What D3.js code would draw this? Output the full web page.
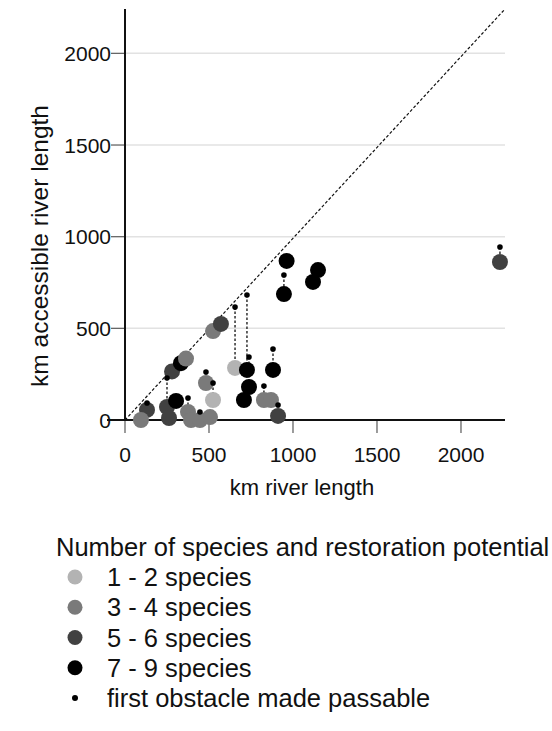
<!DOCTYPE html>
<html><head><meta charset="utf-8">
<script src="https://cdn.jsdelivr.net/npm/d3@7"></script>
<style>
body{margin:0;background:#fff;}
svg{display:block;font-family:"Liberation Sans",Arial,sans-serif;}
</style></head>
<body>
<svg id="chart" width="552" height="731"></svg>
<script>
// ---- data ----
const riverLength    = [131, 95, 250, 262, 304, 280, 333, 363, 482, 375, 393, 446, 506, 524, 524, 571, 655, 726, 738, 708, 827, 869, 881, 911, 946, 962, 1149, 1119, 2232];
const accessible     = [ 55,  0,  71,  11, 104, 265, 310, 335, 202,  44,   0,   0,  16, 109, 485, 524, 284, 273, 180, 109, 109, 109, 273,  22, 687, 868,  818,  753,  862];
const afterPassable  = [ 93, null, 229, null, null, null, null, null, 262, 120, null, 44, null, 202, null, null, 616, 682, 344, null, 185, null, 387, 82, 791, null, null, null, 944];
const speciesClass   = [  2,  1,   2,   2,   3,   2,   3,   1,   1,   1,    1,   1,   1,   0,   1,   2,   0,   3,   3,   3,   1,   1,   3,   2,   3,   3,    3,    3,    2];
const classLabels    = ["1 - 2 species", "3 - 4 species", "5 - 6 species", "7 - 9 species"];
const classColors    = ["#b3b3b3", "#7a7a7a", "#414141", "#000000"];
const xTicks = [0, 500, 1000, 1500, 2000];
const yTicks = [0, 500, 1000, 1500, 2000];

const svg = d3.select("#chart");
const x = d3.scaleLinear().domain([0, 2262]).range([125, 505]);
const y = d3.scaleLinear().domain([0, 2242]).range([420, 9]);

const pts = riverLength.map((d, i) => ({km: d, acc: accessible[i], pass: afterPassable[i], c: speciesClass[i]}));

// grid
svg.append("g").selectAll("line").data(yTicks.filter(d => d > 0)).join("line")
  .attr("x1", x(0)).attr("x2", x.range()[1])
  .attr("y1", d => y(d)).attr("y2", d => y(d))
  .attr("stroke", "#e2e2e2").attr("stroke-width", 1.5);

// ticks
svg.append("g").selectAll("line").data(yTicks).join("line")
  .attr("x1", x(0) - 14).attr("x2", x(0))
  .attr("y1", d => y(d)).attr("y2", d => y(d))
  .attr("stroke", "#666").attr("stroke-width", 1.3);
svg.append("g").selectAll("line").data(xTicks).join("line")
  .attr("x1", d => x(d)).attr("x2", d => x(d))
  .attr("y1", y(0)).attr("y2", y(0) + 13)
  .attr("stroke", "#666").attr("stroke-width", 1.3);

// axes lines
svg.append("line").attr("x1", x(0)).attr("x2", x(0)).attr("y1", y.range()[1]).attr("y2", y(0))
  .attr("stroke", "#111").attr("stroke-width", 2);
svg.append("line").attr("x1", x(0) - 18).attr("x2", x.range()[1]).attr("y1", y(0)).attr("y2", y(0))
  .attr("stroke", "#111").attr("stroke-width", 2);

// tick labels
svg.append("g").selectAll("text").data(yTicks).join("text")
  .attr("x", x(0) - 14).attr("y", d => y(d)).attr("dy", "0.36em")
  .attr("text-anchor", "end").attr("font-size", 21).attr("fill", "#111")
  .text(d => d);
svg.append("g").selectAll("text").data(xTicks).join("text")
  .attr("x", d => x(d)).attr("y", 462)
  .attr("text-anchor", "middle").attr("font-size", 21).attr("fill", "#111")
  .text(d => d);

// axis titles
svg.append("text").attr("x", 302).attr("y", 495).attr("text-anchor", "middle")
  .attr("font-size", 22).attr("fill", "#111").text("km river length");
svg.append("text").attr("transform", "translate(48,246) rotate(-90)").attr("text-anchor", "middle")
  .attr("font-size", 24.5).attr("fill", "#111").text("km accessible river length");

// 1:1 line
svg.append("line").attr("x1", x(0)).attr("y1", y(0)).attr("x2", x(2262)).attr("y2", y(2242))
  .attr("stroke", "#111").attr("stroke-width", 1.2).attr("stroke-dasharray", "3,2");

// dashed links
const withPass = pts.filter(d => d.pass !== null);
svg.append("g").selectAll("line").data(withPass).join("line")
  .attr("x1", d => x(d.km)).attr("x2", d => x(d.km))
  .attr("y1", d => y(d.pass)).attr("y2", d => y(d.acc))
  .attr("stroke", "#111").attr("stroke-width", 1.3).attr("stroke-dasharray", "2.5,2");

// circles
svg.append("g").selectAll("circle").data(pts).join("circle")
  .attr("cx", d => x(d.km)).attr("cy", d => y(d.acc)).attr("r", 8)
  .attr("fill", d => classColors[d.c]);

// small dots
svg.append("g").selectAll("circle").data(withPass).join("circle")
  .attr("cx", d => x(d.km)).attr("cy", d => y(d.pass)).attr("r", 2.8)
  .attr("fill", "#000");

// legend
const lg = svg.append("g");
lg.append("text").attr("x", 56).attr("y", 556).attr("font-size", 25.5).attr("fill", "#111")
  .text("Number of species and restoration potential");
const rows = classLabels.map((l, i) => ({label: l, color: classColors[i], r: 7.5}))
  .concat([{label: "first obstacle made passable", color: "#000", r: 3}]);
const rowY = d3.scaleLinear().domain([0, 4]).range([577, 698]);
lg.selectAll("circle").data(rows).join("circle")
  .attr("cx", 75).attr("cy", (d, i) => rowY(i)).attr("r", d => d.r).attr("fill", d => d.color);
lg.selectAll("text.item").data(rows).join("text").attr("class", "item")
  .attr("x", 107).attr("y", (d, i) => rowY(i)).attr("dy", "0.36em")
  .attr("font-size", 25.5).attr("fill", "#111").text(d => d.label);
</script>
</body></html>
